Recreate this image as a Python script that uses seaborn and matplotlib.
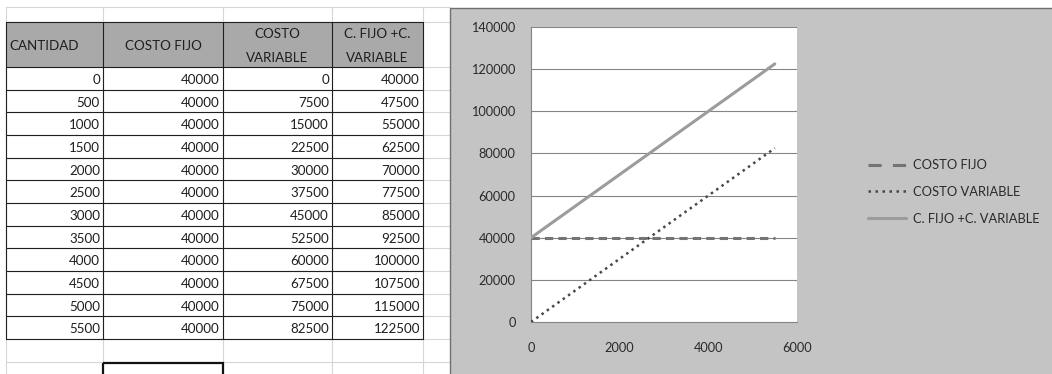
import matplotlib
matplotlib.use("Agg")
import matplotlib.pyplot as plt
from matplotlib.patches import Rectangle
from matplotlib.lines import Line2D
import pandas as pd
import seaborn as sns

# ---- data ----
cantidad = [0, 500, 1000, 1500, 2000, 2500, 3000, 3500, 4000, 4500, 5000, 5500]
costo_fijo = [40000, 40000, 40000, 40000, 40000, 40000, 40000, 40000, 40000, 40000, 40000, 40000]
costo_variable = [0, 7500, 15000, 22500, 30000, 37500, 45000, 52500, 60000, 67500, 75000, 82500]
costo_total = [40000, 47500, 55000, 62500, 70000, 77500, 85000, 92500, 100000, 107500, 115000, 122500]

headers = ["CANTIDAD", "COSTO FIJO", "COSTO\nVARIABLE", "C. FIJO +C.\nVARIABLE"]
series_names = ["COSTO FIJO", "COSTO VARIABLE", "C. FIJO +C. VARIABLE"]
x_ticks = [0, 2000, 4000, 6000]
y_ticks = [0, 20000, 40000, 60000, 80000, 100000, 120000, 140000]

sns.set_style("white")
plt.rcParams["font.family"] = ["Lato", "DejaVu Sans"]

W, H = 1052, 374
fig = plt.figure(figsize=(W / 100, H / 100), dpi=100)
fig.patch.set_facecolor("white")

# ---- worksheet layer, in pixel units ----
bg = fig.add_axes([0, 0, 1, 1])
bg.set_xlim(0, W)
bg.set_ylim(H, 0)
bg.axis("off")

col_x = [6, 103, 223, 332, 423]
row_h = 22.67
header_top, header_bot = 22, 67
data_rows = [header_bot + i * row_h for i in range(len(cantidad) + 1)]
sheet_rows = [7, header_top] + data_rows + [362]
grid_c = "#d6d6d6"
text_c = "#1e1e1e"

for x in col_x:
    bg.plot([x, x], [7, H], color=grid_c, lw=0.8, zorder=1)
for y in sheet_rows:
    bg.plot([col_x[0], 450], [y, y], color=grid_c, lw=0.8, zorder=1)

# header fill
bg.add_patch(Rectangle((col_x[0], header_top), col_x[-1] - col_x[0],
                       header_bot - header_top, facecolor="#a9a9a9",
                       edgecolor="none", zorder=2))
# table borders
for y in [header_top] + data_rows:
    bg.plot([col_x[0], col_x[-1]], [y, y], color="#202020", lw=0.8, zorder=3)
for x in col_x:
    bg.plot([x, x], [header_top, data_rows[-1]], color="#202020", lw=0.8, zorder=3)

# selected cell outline
bg.add_patch(Rectangle((col_x[1], 362.5), col_x[2] - col_x[1], 20,
                       facecolor="none", edgecolor="#111111", lw=1.6, zorder=4))

fs_cell = 9.6
# header texts
bg.text(col_x[0] + 3, 45.5, headers[0], ha="left", va="center",
        fontsize=fs_cell, color=text_c, zorder=5)
for j in range(1, 4):
    cx = (col_x[j] + col_x[j + 1]) / 2
    parts = headers[j].split("\n")
    if len(parts) == 1:
        bg.text(cx, 45.5, parts[0], ha="center", va="center",
                fontsize=fs_cell, color=text_c, zorder=5)
    else:
        bg.text(cx, 33.5, parts[0], ha="center", va="center",
                fontsize=fs_cell, color=text_c, zorder=5)
        bg.text(cx, 57.5, parts[1], ha="center", va="center",
                fontsize=fs_cell, color=text_c, zorder=5)

# numeric cells
columns = [cantidad, costo_fijo, costo_variable, costo_total]
for i in range(len(cantidad)):
    yc = data_rows[i] + row_h / 2 + 1.5
    for j, col in enumerate(columns):
        bg.text(col_x[j + 1] - 3, yc, str(col[i]), ha="right", va="center",
                fontsize=fs_cell, color=text_c, zorder=5)

# chart area
bg.add_patch(Rectangle((450, 8), W - 450 + 5, H - 8 + 5, facecolor="#c4c4c4",
                       edgecolor="#707070", lw=1.0, zorder=6))

# ---- chart ----
ax = fig.add_axes([531 / W, 1 - 322 / H, (797 - 531) / W, (322 - 27) / H])
ax.set_facecolor("white")

df = pd.DataFrame({"cantidad": cantidad, "fijo": costo_fijo,
                   "variable": costo_variable, "total": costo_total})

c_fijo, c_var, c_tot = "#747474", "#484848", "#9c9c9c"
sns.lineplot(data=df, x="cantidad", y="fijo", ax=ax, color=c_fijo, lw=2.2,
             linestyle=(0, (2.7, 1.7)), zorder=3)
sns.lineplot(data=df, x="cantidad", y="variable", ax=ax, color=c_var, lw=1.8,
             linestyle=(0, (1, 1.6)), zorder=4)
sns.lineplot(data=df, x="cantidad", y="total", ax=ax, color=c_tot, lw=2.2,
             zorder=5)

ax.set_xlim(x_ticks[0], x_ticks[-1])
ax.set_ylim(y_ticks[0], y_ticks[-1])
ax.set_xticks(x_ticks)
ax.set_yticks(y_ticks)
ax.set_xticklabels([str(v) for v in x_ticks])
ax.set_yticklabels([str(v) for v in y_ticks])
ax.set_xlabel("")
ax.set_ylabel("")
ax.grid(False)
for y in y_ticks[1:]:
    ax.axhline(y, color="#858585", lw=0.8, zorder=1)

for s in ["top", "right"]:
    ax.spines[s].set_visible(False)
for s in ["left", "bottom"]:
    ax.spines[s].set_color("#858585")
    ax.spines[s].set_linewidth(0.8)
ax.tick_params(axis="both", direction="out", length=4, width=0.8,
               color="#858585", labelsize=9.2, labelcolor="#2a2a2a")
ax.tick_params(axis="y", pad=7)
ax.tick_params(axis="x", pad=10.5)

# legend
handles = [
    Line2D([], [], color=c_fijo, lw=2.2, linestyle=(0, (4.3, 3.7))),
    Line2D([], [], color=c_var, lw=1.8, linestyle=(0, (1, 1.8))),
    Line2D([], [], color=c_tot, lw=2.2),
]
fig.legend(handles, series_names, loc="center left",
           bbox_to_anchor=(868 / W, 1 - 192 / H), frameon=False,
           fontsize=9.3, handlelength=2.95, handletextpad=0.55,
           labelspacing=1.14, borderpad=0, borderaxespad=0,
           labelcolor="#2a2a2a")

fig.savefig("out.png", dpi=100)
